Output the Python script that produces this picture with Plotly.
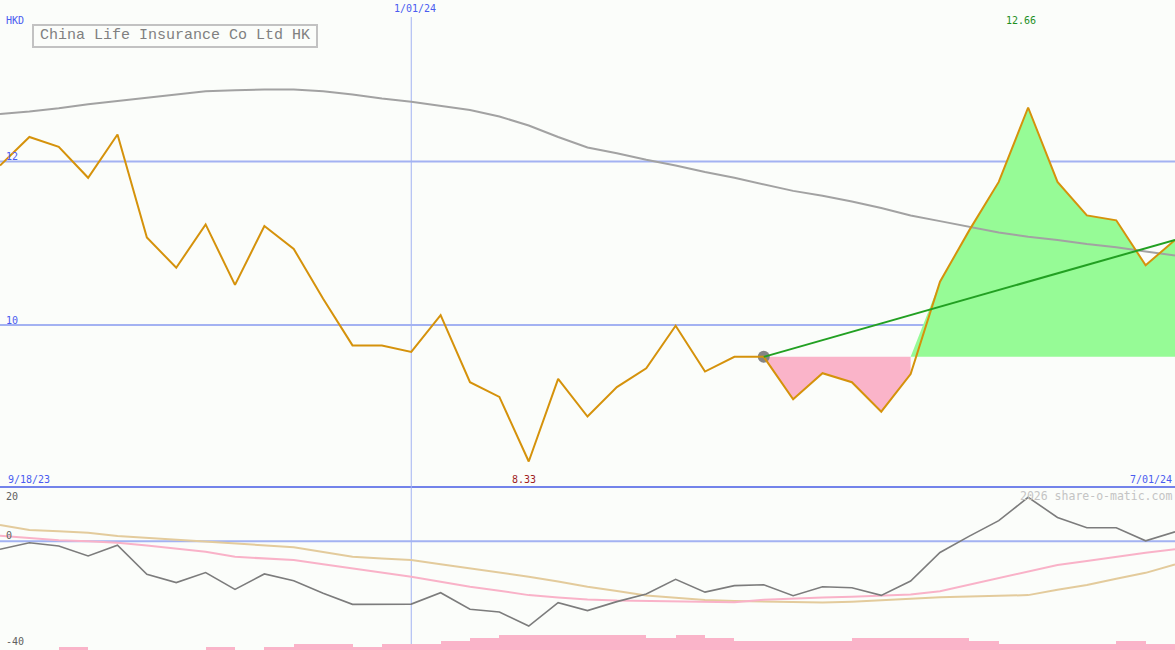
import plotly.graph_objects as go
import pandas as pd

# ---------------- data ----------------
dates = pd.date_range("2023-09-25", periods=41, freq="7D")

price = [11.95, 12.30, 12.18, 11.80, 12.33, 11.07, 10.70, 11.23, 10.49, 11.21,
         10.93, 10.32, 9.75, 9.75, 9.67, 10.12, 9.30, 9.12, 8.33, 9.34,
         8.88, 9.24, 9.47, 9.99, 9.43, 9.61, 9.61, 9.09, 9.41, 9.30,
         8.94, 9.40, 10.53, 11.16, 11.75, 12.66, 11.75, 11.34, 11.28, 10.73,
         11.04]

ma_long = [12.58, 12.61, 12.65, 12.70, 12.74, 12.78, 12.82, 12.86, 12.87, 12.88,
           12.88, 12.86, 12.82, 12.77, 12.73, 12.68, 12.63, 12.55, 12.44, 12.30,
           12.17, 12.10, 12.02, 11.95, 11.87, 11.80, 11.72, 11.64, 11.58, 11.51,
           11.43, 11.34, 11.27, 11.20, 11.13, 11.08, 11.04, 10.99, 10.95, 10.90,
           10.85]

osc = [-2.9, -0.5, -1.7, -5.4, -1.4, -12.1, -15.2, -11.5, -17.7, -12.0,
       -14.5, -19.1, -23.2, -23.1, -23.1, -18.9, -25.0, -26.0, -31.2, -22.6,
       -25.5, -22.2, -19.4, -14.0, -18.7, -16.3, -16.0, -20.0, -16.7, -17.1,
       -19.9, -14.6, -4.1, 1.9, 7.6, 16.2, 8.8, 5.0, 5.0, 0.2,
       3.5]

osc_fast = [2.1, 1.2, 0.4, 0.0, -0.5, -1.5, -2.6, -3.8, -5.7, -6.3,
            -6.9, -8.4, -9.9, -11.5, -13.0, -14.9, -16.7, -18.2, -19.8, -20.7,
            -21.4, -21.8, -22.0, -22.2, -22.3, -22.4, -21.5, -21.0, -20.7, -20.4,
            -20.1, -19.6, -18.4, -16.0, -13.5, -11.1, -8.7, -7.2, -5.6, -4.2,
            -2.9]

osc_slow = [6.0, 4.2, 3.7, 3.2, 2.0, 1.3, 0.5, -0.2, -0.7, -1.4,
            -2.2, -3.9, -5.7, -6.3, -6.9, -8.4, -9.9, -11.5, -13.0, -14.8,
            -16.7, -18.3, -19.9, -20.8, -21.6, -22.0, -22.2, -22.4, -22.5, -22.2,
            -21.6, -21.2, -20.6, -20.3, -20.0, -19.8, -17.8, -16.1, -13.8, -11.6,
            -8.5]

# weekly bars (one per interval between consecutive dates)
volume = [0, 0, 1, 0, 0, 0, 0, 1, 0, 1,
          2, 2, 1, 2, 2, 3, 4, 5, 5, 5,
          5, 5, 4, 5, 4, 3, 3, 3, 3, 4,
          4, 4, 4, 3, 2, 2, 2, 2, 3, 2]

price_grid = [10, 12]
osc_grid = [0]
anchor_idx = 26          # start of the trend segment (grey dot)
cross_idx = 31           # last point of the pink (below) region
year_mark = "2024-01-01"
year_label = "1/01/24"
start_label = "9/18/23"
end_label = "7/01/24"
low_label = "8.33"
high_label = "12.66"
title = "China Life Insurance Co Ltd HK"
currency = "HKD"
osc_top_label, osc_zero_label, osc_bottom_label = "20", "0", "-40"
credit = "2026 share-o-matic.com"

# ---------------- styling ----------------
W, H = 1175, 650
BG = "#fbfdfa"
GRID = "#a3b2f2"
DIV = "#7383ea"
BLUE_TXT = "#4a5cf0"
MONO = "DejaVu Sans Mono"
split = 163 / H  # bottom panel height fraction


def px(x):
    return x / W


def py(y):
    return 1 - y / H


base = price[anchor_idx]
d = list(dates)

fig = go.Figure()

# pink area (below the anchor level)
pink_x = d[anchor_idx:cross_idx + 1] + [d[cross_idx], d[anchor_idx]]
pink_y = price[anchor_idx:cross_idx + 1] + [base, base]
fig.add_trace(go.Scatter(x=pink_x, y=pink_y, fill="toself", fillcolor="#fab4c9",
                         line=dict(width=0), mode="lines", hoverinfo="skip",
                         xaxis="x", yaxis="y"))
# green area (above the anchor level)
green_x = [d[cross_idx]] + d[cross_idx + 1:] + [d[-1]]
green_y = [base] + price[cross_idx + 1:] + [base]
fig.add_trace(go.Scatter(x=green_x, y=green_y, fill="toself", fillcolor="#96fb96",
                         line=dict(width=0), mode="lines", hoverinfo="skip",
                         xaxis="x", yaxis="y"))

# long moving average
fig.add_trace(go.Scatter(x=d, y=ma_long, mode="lines",
                         line=dict(color="#a2a2a2", width=2), xaxis="x", yaxis="y"))
# anchor dot
fig.add_trace(go.Scatter(x=[d[anchor_idx]], y=[base], mode="markers",
                         marker=dict(color="#848484", size=12), xaxis="x", yaxis="y"))
# price
fig.add_trace(go.Scatter(x=d, y=price, mode="lines",
                         line=dict(color="#d5920b", width=2), xaxis="x", yaxis="y"))
# trend line
fig.add_trace(go.Scatter(x=[d[anchor_idx], d[-1]], y=[base, price[-1]], mode="lines",
                         line=dict(color="#22a022", width=2), xaxis="x", yaxis="y"))

# ---------------- bottom panel ----------------
bar_x = [d[i] + pd.Timedelta(days=3.5) for i in range(len(volume))]
fig.add_trace(go.Bar(x=bar_x, y=volume, width=7 * 86400000,
                     marker=dict(color="#fab4c9", line=dict(width=0)),
                     xaxis="x2", yaxis="y3"))
fig.add_trace(go.Scatter(x=d, y=osc_slow, mode="lines",
                         line=dict(color="#e3cb9c", width=2), xaxis="x2", yaxis="y2"))
fig.add_trace(go.Scatter(x=d, y=osc_fast, mode="lines",
                         line=dict(color="#f9b2c8", width=2), xaxis="x2", yaxis="y2"))
fig.add_trace(go.Scatter(x=d, y=osc, mode="lines",
                         line=dict(color="#7c7c7c", width=1.6), xaxis="x2", yaxis="y2"))

shapes = []
for g in price_grid:
    shapes.append(dict(type="line", xref="paper", x0=0, x1=1, yref="y", y0=g, y1=g,
                       line=dict(color=GRID, width=2), layer="below"))
for g in osc_grid:
    shapes.append(dict(type="line", xref="paper", x0=0, x1=1, yref="y2", y0=g, y1=g,
                       line=dict(color=GRID, width=2), layer="below"))
shapes.append(dict(type="line", xref="paper", x0=0, x1=1, yref="paper",
                   y0=split, y1=split, line=dict(color=DIV, width=2), layer="below"))
shapes.append(dict(type="line", xref="x", x0=year_mark, x1=year_mark, yref="paper",
                   y0=0, y1=py(17), line=dict(color=GRID, width=1), layer="below"))
shapes.append(dict(type="rect", xref="paper", yref="paper",
                   x0=px(33), x1=px(317), y0=py(25), y1=py(47),
                   line=dict(color="#c2c2c2", width=2), fillcolor=BG, layer="above"))


def txt(text, x, y, color, size=10, xanchor="left", family=MONO):
    return dict(text=text, x=px(x), y=py(y), xref="paper", yref="paper",
                xanchor=xanchor, yanchor="middle", showarrow=False,
                font=dict(family=family, size=size, color=color), borderpad=0)


annotations = [
    txt(title, 175, 36, "#808080", size=15, xanchor="center", family="Liberation Mono"),
    txt(currency, 5, 21, BLUE_TXT),
    txt(year_label, 415, 9, BLUE_TXT, xanchor="center"),
    txt(str(price_grid[1]), 5, 156, BLUE_TXT),
    txt(str(price_grid[0]), 5, 320, BLUE_TXT),
    txt(start_label, 7, 479, BLUE_TXT),
    txt(low_label, 524, 479, "#a01e1e", xanchor="center"),
    txt(high_label, 1021, 21, "#1f8f1f", xanchor="center"),
    txt(end_label, 1173, 479, BLUE_TXT, xanchor="right"),
    txt(credit, 1173, 496, "#c4c4c4", size=11.5, xanchor="right"),
    txt(osc_top_label, 5, 496, "#606060"),
    txt(osc_zero_label, 5, 535, "#606060"),
    txt(osc_bottom_label, 5, 641, "#606060"),
]

fig.update_layout(
    width=W, height=H, margin=dict(l=0, r=0, t=0, b=0, pad=0),
    paper_bgcolor=BG, plot_bgcolor=BG, showlegend=False,
    xaxis=dict(domain=[0, 1], range=[d[0], d[-1]], visible=False, anchor="y"),
    xaxis2=dict(domain=[0, 1], range=[d[0], d[-1]], visible=False, anchor="y2",
                matches="x"),
    yaxis=dict(domain=[split, 1], range=[8.018, 13.975], visible=False),
    yaxis2=dict(domain=[0, split], range=[-40, 20], visible=False),
    yaxis3=dict(overlaying="y2", range=[0, 163 / 3], visible=False, anchor="x2"),
    shapes=shapes, annotations=annotations, bargap=0,
)

fig.write_html("out.html", config={"displayModeBar": False},
               post_script="document.body.style.margin='0';"
                           "document.body.style.overflow='hidden';")
